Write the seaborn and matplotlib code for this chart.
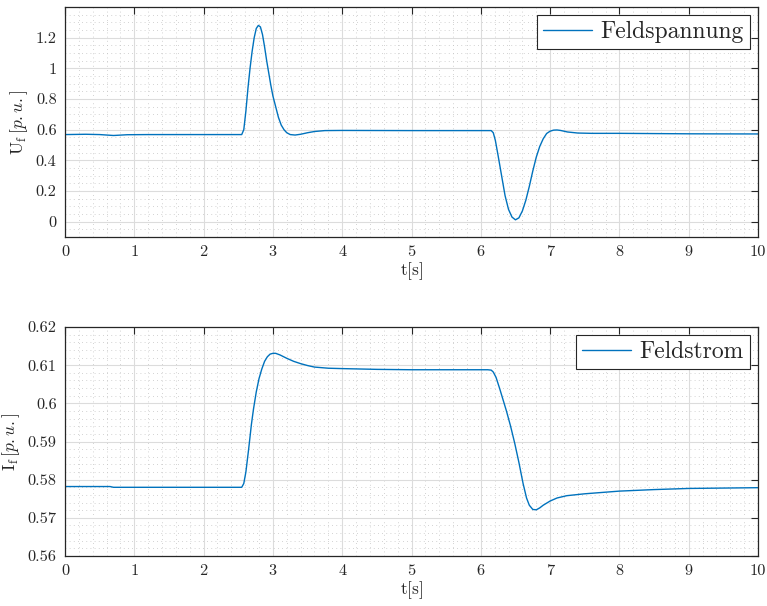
import numpy as np
import pandas as pd
import matplotlib
matplotlib.use("Agg")
import matplotlib.pyplot as plt
import seaborn as sns
from matplotlib.ticker import MultipleLocator

# ---- data ----
t_u = [0.0, 0.3, 0.5, 0.7, 0.9, 1.2, 2.0, 2.55, 2.58, 2.61, 2.64, 2.67, 2.70, 2.73,
       2.76, 2.79, 2.82, 2.85, 2.88, 2.91, 2.94, 2.97, 3.00, 3.04, 3.08, 3.12,
       3.16, 3.20, 3.25, 3.32, 3.40, 3.50, 3.60, 3.75, 4.0, 5.0, 6.1, 6.15,
       6.18, 6.21, 6.25, 6.30, 6.35, 6.40, 6.45, 6.50, 6.55, 6.60, 6.65, 6.70,
       6.75, 6.80, 6.85, 6.90, 6.95, 7.00, 7.05, 7.10, 7.15, 7.25, 7.40, 7.60,
       8.0, 9.0, 10.0]
u_f = [0.568, 0.570, 0.568, 0.562, 0.567, 0.568, 0.568, 0.568, 0.60, 0.72, 0.87, 1.00,
       1.11, 1.20, 1.26, 1.28, 1.27, 1.22, 1.14, 1.05, 0.97, 0.89, 0.82, 0.75,
       0.68, 0.63, 0.60, 0.58, 0.568, 0.565, 0.570, 0.580, 0.588, 0.594, 0.595,
       0.594, 0.594, 0.594, 0.58, 0.53, 0.43, 0.30, 0.17, 0.08, 0.03, 0.012,
       0.025, 0.07, 0.14, 0.23, 0.33, 0.42, 0.49, 0.54, 0.575, 0.59, 0.597,
       0.598, 0.595, 0.585, 0.578, 0.576, 0.576, 0.573, 0.572]

t_i = [0.0, 0.65, 0.70, 2.55, 2.58, 2.61, 2.65, 2.69, 2.72, 2.76, 2.80, 2.84, 2.88,
       2.92, 2.96, 3.00, 3.04, 3.10, 3.20, 3.30, 3.40, 3.50, 3.60, 3.80, 4.0,
       4.5, 5.0, 6.1, 6.15, 6.18, 6.22, 6.27, 6.32, 6.37, 6.43, 6.49, 6.55,
       6.61, 6.66, 6.70, 6.75, 6.80, 6.85, 6.90, 7.00, 7.10, 7.24, 7.50, 8.0,
       8.5, 9.0, 10.0]
i_f = [0.5782, 0.5782, 0.5780, 0.5780, 0.5790, 0.5820, 0.5880, 0.5945, 0.5985,
       0.6030, 0.6065, 0.6090, 0.6110, 0.6122, 0.6129, 0.6131, 0.6131, 0.6127,
       0.6118, 0.6110, 0.6104, 0.6099, 0.6095, 0.6092, 0.6091, 0.6089, 0.6088,
       0.6088, 0.6087, 0.6082, 0.6068, 0.6040, 0.6010, 0.5980, 0.5940, 0.5895,
       0.5845, 0.5790, 0.5752, 0.5733, 0.5722, 0.5721, 0.5726, 0.5733, 0.5744,
       0.5752, 0.5758, 0.5763, 0.5770, 0.5774, 0.5777, 0.5779]

x_ticks = [0, 1, 2, 3, 4, 5, 6, 7, 8, 9, 10]
u_ticks = [0, 0.2, 0.4, 0.6, 0.8, 1.0, 1.2]
i_ticks = [0.56, 0.57, 0.58, 0.59, 0.60, 0.61, 0.62]

sns.set_style("white")
plt.rcParams["font.family"] = ["cmr10", "DejaVu Serif"]
plt.rcParams["mathtext.fontset"] = "cm"
plt.rcParams["axes.formatter.use_mathtext"] = True

line_color = "#0072BD"
axis_color = "#262626"

fig = plt.figure(figsize=(7.67, 6.06), dpi=100)
ax1 = fig.add_axes([65/767, 1-237/606, 693/767, 230/606])
ax2 = fig.add_axes([65/767, 1-556/606, 693/767, 229/606])

df_u = pd.DataFrame({"t": t_u, "v": u_f})
df_i = pd.DataFrame({"t": t_i, "v": i_f})

sns.lineplot(data=df_u, x="t", y="v", ax=ax1, color=line_color, lw=1.0,
             label="Feldspannung", sort=False)
sns.lineplot(data=df_i, x="t", y="v", ax=ax2, color=line_color, lw=1.0,
             label="Feldstrom", sort=False)

def style(ax, yticks, ylim, yminor, ylabel, ylabels):
    ax.set_xlim(0, 10)
    ax.set_ylim(*ylim)
    ax.set_xticks(x_ticks)
    ax.set_xticklabels([str(v) for v in x_ticks])
    ax.set_yticks(yticks)
    ax.set_yticklabels(ylabels)
    ax.xaxis.set_minor_locator(MultipleLocator(0.2))
    ax.yaxis.set_minor_locator(MultipleLocator(yminor))
    ax.grid(True, which="major", color="#dcdcdc", lw=0.8, ls="-")
    ax.grid(True, which="minor", color="#c4c4c4", lw=0.6, ls=(0, (1, 4)))
    ax.set_axisbelow(True)
    ax.tick_params(which="major", direction="in", length=5, width=0.8,
                   top=True, right=True, colors=axis_color, labelsize=11.8,
                   labelcolor="#262626", pad=6)
    ax.tick_params(which="minor", length=0, top=True, right=True)
    for s in ax.spines.values():
        s.set_color(axis_color)
        s.set_linewidth(0.9)
    ax.set_xlabel(r"$\mathrm{t[s]}$", fontsize=12.5, color="#262626", labelpad=1)
    ax.set_ylabel(ylabel, fontsize=12.5, color="#262626", labelpad=4)
    leg = ax.legend(loc="upper right", fontsize=17, frameon=True, fancybox=False,
                    edgecolor="#262626", framealpha=1, handlelength=2.1,
                    borderpad=0.25, borderaxespad=0.35, handletextpad=0.35)
    leg.get_frame().set_linewidth(0.8)

style(ax1, u_ticks, (-0.1, 1.4), 0.05, r"$\mathrm{U_f}\,[\mathit{p.u.}]$",
      ["0", "0.2", "0.4", "0.6", "0.8", "1", "1.2"])
style(ax2, i_ticks, (0.56, 0.62), 0.002, r"$\mathrm{I_f}\,[\mathit{p.u.}]$",
      ["0.56", "0.57", "0.58", "0.59", "0.6", "0.61", "0.62"])

fig.savefig("out.png", dpi=100)
